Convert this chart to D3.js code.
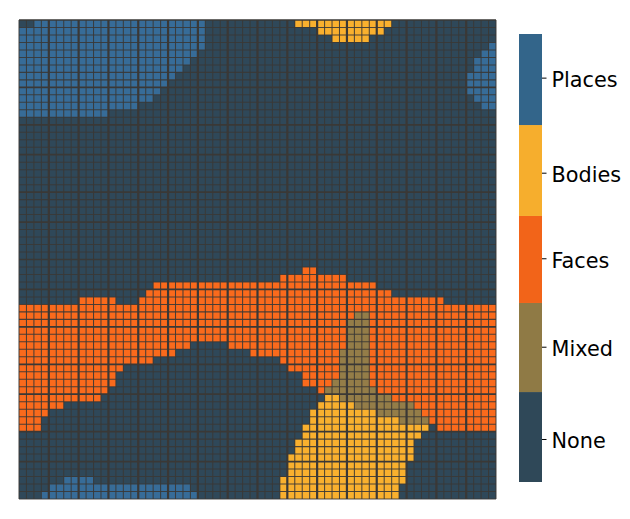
<!DOCTYPE html>
<html><head><meta charset="utf-8">
<style>html,body{margin:0;padding:0;background:#fff}svg{display:block}text{font-family:"DejaVu Sans",sans-serif}</style>
<script src="https://d3js.org/d3.v7.min.js"></script></head>
<body><svg id="c" width="630" height="519"></svg>
<script>
const gridSize = 64;
const classes = ["None","Mixed","Faces","Bodies","Places"];
const barEdges = [0,1.004,1.998,2.969,3.984,5];
const barTicks = [0.48,1.51,2.497,3.452,4.513];
const cellColors = {None:"#2f4859",Mixed:"#947d48",Faces:"#fa6a1c",Bodies:"#f9b02e",Places:"#376c98"};
const barColors = {None:"#2f4858",Mixed:"#8f7a45",Faces:"#f26419",Bodies:"#f6ae2d",Places:"#33658a"};
// runs: [row, first column, last column]
const facesRuns = [[33,38,39],[34,35,43],[35,18,47],[36,17,49],[37,8,12],[37,16,56],
 [38,0,63],[39,0,63],[40,0,63],[41,0,63],[42,0,63],[43,0,22],[43,28,63],[44,0,20],[44,31,63],
 [45,0,17],[45,35,63],[46,0,13],[46,36,63],[47,0,12],[47,38,63],[48,0,12],[48,38,63],
 [49,0,11],[49,40,63],[50,0,10],[50,50,63],[51,0,5],[51,53,63],[52,0,3],[52,54,63],
 [53,0,2],[53,55,63],[54,0,2],[54,56,63]];
const mixedRuns = [[39,45,46],[40,44,46],[41,44,46],[42,44,46],[43,44,46],[44,43,46],[45,43,46],
 [46,43,46],[47,43,46],[48,42,46],[49,41,47],[50,43,49],[51,45,52],[52,48,53],[53,51,54]];
const bodiesRuns = [[0,37,49],[1,40,48],[2,42,46],[50,41,42],[51,40,44],[52,39,47],[53,39,50],
 [54,38,54],[55,38,53],[56,37,52],[57,37,52],[58,36,52],[59,36,51],[60,36,51],[61,35,51],[62,35,50],[63,35,50]];
const placesRuns = [[0,2,24],[1,0,24],[2,0,24],[3,0,24],[3,63,63],[4,0,23],[4,62,63],[5,0,22],[5,61,63],
 [6,0,21],[6,61,63],[7,0,20],[7,60,63],[8,0,19],[8,60,63],[9,0,18],[9,60,63],[10,0,17],[10,61,63],
 [11,0,15],[11,62,63],[12,0,11],[61,6,9],[62,4,22],[63,3,23]];
const thickCols = [4,8,12,16,20,24,28,32,36,40,44,48,52,56,60];
const thickRows = [0,9,14,18,23,27,32,36,41,46,50,55,59];

const svg = d3.select("#c");
const idx = d3.range(gridSize);
const x = d3.scaleBand().domain(idx).range([19,496]);
const y = d3.scaleBand().domain(idx).range([20,499]);
const xL = d3.scaleLinear().domain([0,gridSize]).range([19,496]);
const yL = d3.scaleLinear().domain([0,gridSize]).range([20,499]);

svg.append("rect").attr("x",x(0)).attr("y",y(0)).attr("width",x.bandwidth()*gridSize).attr("height",y.bandwidth()*gridSize).attr("fill",cellColors.None);
const layers = [["Faces",facesRuns],["Mixed",mixedRuns],["Bodies",bodiesRuns],["Places",placesRuns]];
layers.forEach(([name,runs])=>{
  svg.append("g").selectAll("rect").data(runs).join("rect")
   .attr("x",d=>x(d[1])).attr("y",d=>y(d[0]))
   .attr("width",d=>x.bandwidth()*(d[2]-d[1]+1)).attr("height",y.bandwidth())
   .attr("fill",cellColors[name]).attr("shape-rendering","crispEdges");
});
const grid = svg.append("g").attr("stroke","#3a3836");
d3.range(gridSize+1).forEach(i=>{
  grid.append("line").attr("x1",xL(i)).attr("x2",xL(i)).attr("y1",20).attr("y2",499)
    .attr("stroke-width",thickCols.includes(i)?2.2:1.05).attr("stroke-opacity",thickCols.includes(i)?1:0.9);
  grid.append("line").attr("y1",yL(i)).attr("y2",yL(i)).attr("x1",19).attr("x2",496)
    .attr("stroke-width",thickRows.includes(i)?1.7:1.05).attr("stroke-opacity",thickRows.includes(i)?1:0.9);
});

const cb = d3.scaleLinear().domain([0,classes.length]).range([482,34]);
svg.append("g").selectAll("rect").data(classes).join("rect")
  .attr("x",519).attr("width",23)
  .attr("y",(d,i)=>cb(barEdges[i+1])).attr("height",(d,i)=>cb(barEdges[i])-cb(barEdges[i+1]))
  .attr("fill",d=>barColors[d]);
const axis = d3.axisRight(cb).tickValues(barTicks)
  .tickFormat((d,i)=>classes[i]).tickSize(4.5).tickPadding(5);
const ag = svg.append("g").attr("transform","translate(542,0)").call(axis);
ag.select(".domain").remove();
ag.selectAll("line").attr("stroke","#000").attr("stroke-width",1);
ag.selectAll("text").attr("fill","#000").attr("font-size","20.8px").attr("dy","0.42em").attr("font-family",'"DejaVu Sans",sans-serif');
</script></body></html>
